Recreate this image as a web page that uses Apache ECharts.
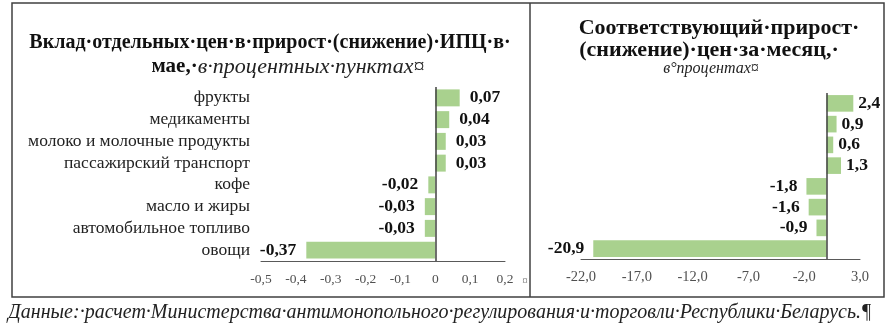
<!DOCTYPE html>
<html>
<head>
<meta charset="utf-8">
<script src="https://cdn.jsdelivr.net/npm/echarts@6/dist/echarts.min.js"></script>
<style>
html,body{margin:0;padding:0;background:#fff;}
#c{width:891px;height:326px;}
</style>
</head>
<body>
<div id="c"></div>
<script>
const categories = ['фрукты','медикаменты','молоко и молочные продукты','пассажирский транспорт','кофе','масло и жиры','автомобильное топливо','овощи'];
const contribution = [0.07, 0.04, 0.03, 0.03, -0.02, -0.03, -0.03, -0.37];
const priceChange = [2.4, 0.9, 0.6, 1.3, -1.8, -1.6, -0.9, -20.9];
const leftTicks = {min: -0.5, max: 0.2, interval: 0.1};
const rightTicks = {min: -22, max: 3, interval: 5};
const leftTitle1 = 'Вклад·отдельных·цен·в·прирост·(снижение)·ИПЦ·в·';
const leftTitle2b = 'мае,·';
const leftTitle2i = 'в·процентных·пунктах¤';
const rightTitle1 = 'Соответствующий·прирост·';
const rightTitle2 = '(снижение)·цен·за·месяц,·';
const rightTitle3 = 'в°процентах¤';
const footer = 'Данные:·расчет·Министерства·антимонопольного·регулирования·и·торговли·Республики·Беларусь.¶';

const SERIF = '"Liberation Serif","Times New Roman",serif';
const BAR = '#a9d18e';
const chart = echarts.init(document.getElementById('c'), null, {renderer: 'canvas'});

function fmtLeft(v){ if (Math.abs(v) < 1e-9) return '0'; return String(+v.toFixed(1)).replace('.', ','); }
function fmtRight(v){ return (+v).toFixed(1).replace('.', ','); }
function withSideLabels(arr, posDist, negDist){
  return arr.map(v => ({value: v, label: {position: v < 0 ? 'left' : 'right', distance: v < 0 ? negDist : posDist}}));
}

const zeroLine = {
  silent: true, symbol: ['none','none'], animation: false,
  label: {show: false},
  lineStyle: {color: '#404040', width: 1.5, type: 'solid'},
  data: [{xAxis: 0}]
};

chart.setOption({
  animation: false,
  backgroundColor: '#fff',
  grid: [
    {left: 261, right: 891 - 505, top: 87, bottom: 326 - 261},
    {left: 581, right: 891 - 860, top: 93, bottom: 326 - 259}
  ],
  xAxis: [
    {gridIndex: 0, type: 'value', min: leftTicks.min, max: leftTicks.max, interval: leftTicks.interval,
     splitLine: {show: false}, axisTick: {show: false},
     axisLine: {show: true, lineStyle: {color: '#595959', width: 1}},
     axisLabel: {formatter: fmtLeft, color: '#505050', fontFamily: SERIF, fontSize: 13.5, margin: 11}},
    {gridIndex: 1, type: 'value', min: rightTicks.min, max: rightTicks.max, interval: rightTicks.interval,
     splitLine: {show: false}, axisTick: {show: false},
     axisLine: {show: true, lineStyle: {color: '#595959', width: 1}},
     axisLabel: {formatter: fmtRight, color: '#505050', fontFamily: SERIF, fontSize: 14.5, margin: 11}}
  ],
  yAxis: [
    {gridIndex: 0, type: 'category', data: categories, inverse: true,
     axisLine: {show: false, onZero: false}, axisTick: {show: false},
     axisLabel: {interval: 0, color: '#222', fontFamily: SERIF, fontSize: 17.5, lineHeight: 18, margin: 11}},
    {gridIndex: 1, type: 'category', data: categories, inverse: true,
     axisLine: {show: false, onZero: false}, axisTick: {show: false},
     axisLabel: {show: false}}
  ],
  series: [
    {type: 'bar', xAxisIndex: 0, yAxisIndex: 0, data: withSideLabels(contribution, 10, 10), barCategoryGap: '22%',
     itemStyle: {color: BAR},
     label: {show: true, color: '#111', fontFamily: SERIF, fontWeight: 'bold', fontSize: 17.5,
       formatter: p => p.value.toFixed(2).replace('.', ',')},
     markLine: zeroLine},
    {type: 'bar', xAxisIndex: 1, yAxisIndex: 1, data: withSideLabels(priceChange, 5, 9), barCategoryGap: '20%',
     itemStyle: {color: BAR},
     label: {show: true, color: '#111', fontFamily: SERIF, fontWeight: 'bold', fontSize: 17.5,
       formatter: p => p.value.toFixed(1).replace('.', ',')},
     markLine: zeroLine}
  ],
  graphic: [
    {type: 'rect', shape: {x: 12, y: 3, width: 872, height: 294}, style: {fill: 'none', stroke: '#404040', lineWidth: 1.5}, silent: true},
    {type: 'line', shape: {x1: 530, y1: 3, x2: 530, y2: 297}, style: {stroke: '#404040', lineWidth: 1.5}, silent: true},
    {type: 'text', x: 270, y: 43, style: {text: leftTitle1, align: 'center', verticalAlign: 'middle', font: 'bold 20px ' + SERIF, fill: '#111'}},
    {type: 'text', x: 288, y: 67, style: {text: '{b|' + leftTitle2b + '}{i|' + leftTitle2i + '}', align: 'center', verticalAlign: 'middle',
      rich: {b: {font: 'bold 21px ' + SERIF, fill: '#111'}, i: {font: 'italic 22px ' + SERIF, fill: '#222'}}}},
    {type: 'text', x: 719, y: 28, style: {text: rightTitle1, align: 'center', verticalAlign: 'middle', font: 'bold 22px ' + SERIF, fill: '#111'}},
    {type: 'text', x: 709, y: 50, style: {text: rightTitle2, align: 'center', verticalAlign: 'middle', font: 'bold 22px ' + SERIF, fill: '#111'}},
    {type: 'text', x: 711, y: 69, style: {text: rightTitle3, align: 'center', verticalAlign: 'middle', font: 'italic 16px ' + SERIF, fill: '#222'}},
    {type: 'text', x: 525, y: 281, style: {text: '¤', align: 'center', verticalAlign: 'middle', font: '11px ' + SERIF, fill: '#666'}},
    {type: 'text', x: 8, y: 313, style: {text: footer, align: 'left', verticalAlign: 'middle', font: 'italic 20px ' + SERIF, fill: '#222'}}
  ]
});
</script>
</body>
</html>
